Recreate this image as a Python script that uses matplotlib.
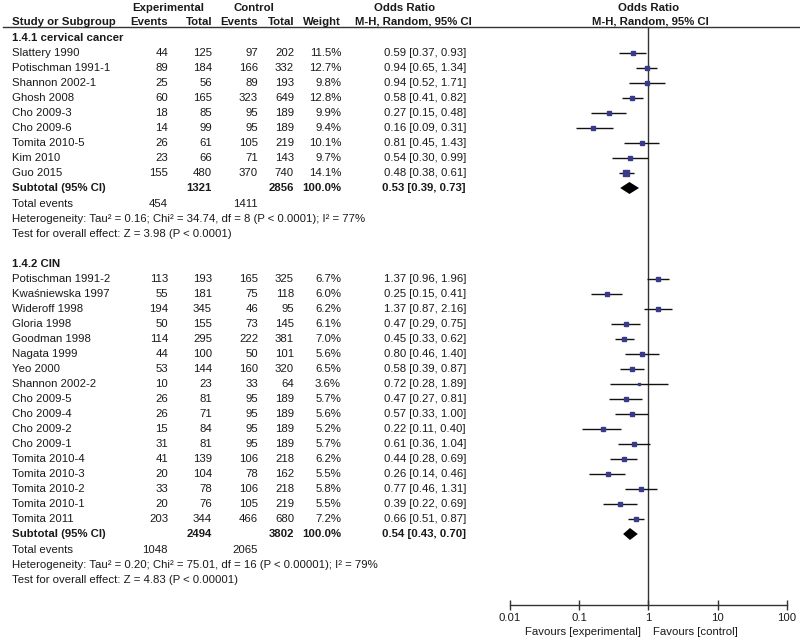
import matplotlib
matplotlib.use("Agg")
import matplotlib.pyplot as plt
import numpy as np

plt.rcParams['font.family'] = ['Liberation Sans', 'DejaVu Sans']

# ---------------- data ----------------
g1_title = "1.4.1 cervical cancer"
g1_names = ["Slattery 1990", "Potischman 1991-1", "Shannon 2002-1", "Ghosh 2008", "Cho 2009-3",
            "Cho 2009-6", "Tomita 2010-5", "Kim 2010", "Guo 2015"]
g1_exp_ev = [44, 89, 25, 60, 18, 14, 26, 23, 155]
g1_exp_tot = [125, 184, 56, 165, 85, 99, 61, 66, 480]
g1_ctl_ev = [97, 166, 89, 323, 95, 95, 105, 71, 370]
g1_ctl_tot = [202, 332, 193, 649, 189, 189, 219, 143, 740]
g1_weight = [11.5, 12.7, 9.8, 12.8, 9.9, 9.4, 10.1, 9.7, 14.1]
g1_or = [0.59, 0.94, 0.94, 0.58, 0.27, 0.16, 0.81, 0.54, 0.48]
g1_lo = [0.37, 0.65, 0.52, 0.41, 0.15, 0.09, 0.45, 0.30, 0.38]
g1_hi = [0.93, 1.34, 1.71, 0.82, 0.48, 0.31, 1.43, 0.99, 0.61]
g1_sub = dict(exp_tot=1321, ctl_tot=2856, orv=0.53, lo=0.39, hi=0.73, exp_ev=454, ctl_ev=1411)
g1_het = "Heterogeneity: Tau² = 0.16; Chi² = 34.74, df = 8 (P < 0.0001); I² = 77%"
g1_test = "Test for overall effect: Z = 3.98 (P < 0.0001)"

g2_title = "1.4.2 CIN"
g2_names = ["Potischman 1991-2", "Kwaśniewska 1997", "Wideroff 1998", "Gloria 1998", "Goodman 1998",
            "Nagata 1999", "Yeo 2000", "Shannon 2002-2", "Cho 2009-5", "Cho 2009-4", "Cho 2009-2",
            "Cho 2009-1", "Tomita 2010-4", "Tomita 2010-3", "Tomita 2010-2", "Tomita 2010-1", "Tomita 2011"]
g2_exp_ev = [113, 55, 194, 50, 114, 44, 53, 10, 26, 26, 15, 31, 41, 20, 33, 20, 203]
g2_exp_tot = [193, 181, 345, 155, 295, 100, 144, 23, 81, 71, 84, 81, 139, 104, 78, 76, 344]
g2_ctl_ev = [165, 75, 46, 73, 222, 50, 160, 33, 95, 95, 95, 95, 106, 78, 106, 105, 466]
g2_ctl_tot = [325, 118, 95, 145, 381, 101, 320, 64, 189, 189, 189, 189, 218, 162, 218, 219, 680]
g2_weight = [6.7, 6.0, 6.2, 6.1, 7.0, 5.6, 6.5, 3.6, 5.7, 5.6, 5.2, 5.7, 6.2, 5.5, 5.8, 5.5, 7.2]
g2_or = [1.37, 0.25, 1.37, 0.47, 0.45, 0.80, 0.58, 0.72, 0.47, 0.57, 0.22, 0.61, 0.44, 0.26, 0.77, 0.39, 0.66]
g2_lo = [0.96, 0.15, 0.87, 0.29, 0.33, 0.46, 0.39, 0.28, 0.27, 0.33, 0.11, 0.36, 0.28, 0.14, 0.46, 0.22, 0.51]
g2_hi = [1.96, 0.41, 2.16, 0.75, 0.62, 1.40, 0.87, 1.89, 0.81, 1.00, 0.40, 1.04, 0.69, 0.46, 1.31, 0.69, 0.87]
g2_sub = dict(exp_tot=2494, ctl_tot=3802, orv=0.54, lo=0.43, hi=0.70, exp_ev=1048, ctl_ev=2065)
g2_het = "Heterogeneity: Tau² = 0.20; Chi² = 75.01, df = 16 (P < 0.00001); I² = 79%"
g2_test = "Test for overall effect: Z = 4.83 (P < 0.00001)"

x_ticks = [0.01, 0.1, 1, 10, 100]
x_ticklabels = ["0.01", "0.1", "1", "10", "100"]

# ---------------- layout ----------------
W, H = 800, 640
fig = plt.figure(figsize=(8, 6.4), dpi=100)
tax = fig.add_axes([0, 0, 1, 1])
tax.set_xlim(0, W)
tax.set_ylim(H, 0)
tax.axis('off')

FS = 8.2
TC = '#1a1a1a'
LC = '#333333'
SQ = '#3a3a8c'

# plot axes (log scale) positioned in pixel coords
px_l, px_r = 510, 787
py_top, py_bot = 27, 605
pax = fig.add_axes([px_l / W, 1 - py_bot / H, (px_r - px_l) / W, (py_bot - py_top) / H])
pax.set_xscale('log')
pax.set_xlim(0.01, 100)
pax.set_ylim(py_bot, py_top)
pax.patch.set_alpha(0)
for s in ['top', 'left', 'right']:
    pax.spines[s].set_visible(False)
pax.spines['bottom'].set_color(LC)
pax.spines['bottom'].set_linewidth(1.0)
pax.set_yticks([])
pax.set_xticks(x_ticks)
pax.set_xticklabels(x_ticklabels, fontsize=FS, color=TC)
pax.xaxis.set_minor_locator(matplotlib.ticker.NullLocator())
pax.tick_params(axis='x', direction='inout', length=7, width=1.0, color=LC, pad=2)
pax.axvline(1, color=LC, lw=1.0)

# column positions (px)
x_name = 12
x_eev, x_etot, x_cev, x_ctot, x_w, x_or = 168, 212, 258, 294, 341, 466

# headers
tax.text(168, 8, "Experimental", fontsize=FS, fontweight='bold', ha='center', va='center', color=TC)
tax.text(254, 8, "Control", fontsize=FS, fontweight='bold', ha='center', va='center', color=TC)
tax.text(405, 8, "Odds Ratio", fontsize=FS, fontweight='bold', ha='center', va='center', color=TC)
tax.text(649, 8, "Odds Ratio", fontsize=FS, fontweight='bold', ha='center', va='center', color=TC)
hy = 22
tax.text(x_name, hy, "Study or Subgroup", fontsize=FS, fontweight='bold', ha='left', va='center', color=TC)
tax.text(x_eev, hy, "Events", fontsize=FS, fontweight='bold', ha='right', va='center', color=TC)
tax.text(x_etot, hy, "Total", fontsize=FS, fontweight='bold', ha='right', va='center', color=TC)
tax.text(x_cev, hy, "Events", fontsize=FS, fontweight='bold', ha='right', va='center', color=TC)
tax.text(x_ctot, hy, "Total", fontsize=FS, fontweight='bold', ha='right', va='center', color=TC)
tax.text(x_w, hy, "Weight", fontsize=FS, fontweight='bold', ha='right', va='center', color=TC)
tax.text(413, hy, "M-H, Random, 95% CI", fontsize=FS, fontweight='bold', ha='center', va='center', color=TC)
tax.text(650, hy, "M-H, Random, 95% CI", fontsize=FS, fontweight='bold', ha='center', va='center', color=TC)
tax.plot([3, 800], [py_top, py_top], color=LC, lw=1.0)

ROW = 15.0


def draw_group(y0, title, names, eev, etot, cev, ctot, wt, orv, lo, hi, sub, het, test):
    tax.text(x_name, y0, title, fontsize=FS, fontweight='bold', ha='left', va='center', color=TC)
    y = y0
    for i in range(len(names)):
        y = y0 + (i + 1) * ROW
        tax.text(x_name, y, names[i], fontsize=FS, ha='left', va='center', color=TC)
        tax.text(x_eev, y, str(eev[i]), fontsize=FS, ha='right', va='center', color=TC)
        tax.text(x_etot, y, str(etot[i]), fontsize=FS, ha='right', va='center', color=TC)
        tax.text(x_cev, y, str(cev[i]), fontsize=FS, ha='right', va='center', color=TC)
        tax.text(x_ctot, y, str(ctot[i]), fontsize=FS, ha='right', va='center', color=TC)
        tax.text(x_w, y, f"{wt[i]:.1f}%", fontsize=FS, ha='right', va='center', color=TC)
        tax.text(x_or, y, f"{orv[i]:.2f} [{lo[i]:.2f}, {hi[i]:.2f}]", fontsize=FS, ha='right', va='center', color=TC)
        pax.plot([lo[i], hi[i]], [y, y], color='#111111', lw=1.0, solid_capstyle='butt')
        pax.plot([orv[i]], [y], marker='s', ms=1.5 + 0.15 * wt[i], color=SQ, mec=SQ, ls='none')
    ys = y + ROW
    tax.text(x_name, ys, "Subtotal (95% CI)", fontsize=FS, fontweight='bold', ha='left', va='center', color=TC)
    tax.text(x_etot, ys, str(sub['exp_tot']), fontsize=FS, fontweight='bold', ha='right', va='center', color=TC)
    tax.text(x_ctot, ys, str(sub['ctl_tot']), fontsize=FS, fontweight='bold', ha='right', va='center', color=TC)
    tax.text(x_w, ys, "100.0%", fontsize=FS, fontweight='bold', ha='right', va='center', color=TC)
    tax.text(x_or, ys, f"{sub['orv']:.2f} [{sub['lo']:.2f}, {sub['hi']:.2f}]", fontsize=FS,
             fontweight='bold', ha='right', va='center', color=TC)
    dh = 6
    pax.fill([sub['lo'], sub['orv'], sub['hi'], sub['orv']], [ys, ys - dh, ys, ys + dh],
             color='black', lw=0)
    yt = ys + 16
    tax.text(x_name, yt, "Total events", fontsize=FS, ha='left', va='center', color=TC)
    tax.text(x_eev, yt, str(sub['exp_ev']), fontsize=FS, ha='right', va='center', color=TC)
    tax.text(x_cev, yt, str(sub['ctl_ev']), fontsize=FS, ha='right', va='center', color=TC)
    tax.text(x_name, yt + ROW, het, fontsize=FS, ha='left', va='center', color=TC)
    tax.text(x_name, yt + 2 * ROW, test, fontsize=FS, ha='left', va='center', color=TC)
    return yt + 2 * ROW


yend = draw_group(38, g1_title, g1_names, g1_exp_ev, g1_exp_tot, g1_ctl_ev, g1_ctl_tot, g1_weight,
                  g1_or, g1_lo, g1_hi, g1_sub, g1_het, g1_test)
draw_group(yend + 30, g2_title, g2_names, g2_exp_ev, g2_exp_tot, g2_ctl_ev, g2_ctl_tot, g2_weight,
           g2_or, g2_lo, g2_hi, g2_sub, g2_het, g2_test)

tax.text(583, 632, "Favours [experimental]", fontsize=FS, ha='center', va='center', color=TC)
tax.text(695, 632, "Favours [control]", fontsize=FS, ha='center', va='center', color=TC)

fig.savefig("out.png", dpi=100)
